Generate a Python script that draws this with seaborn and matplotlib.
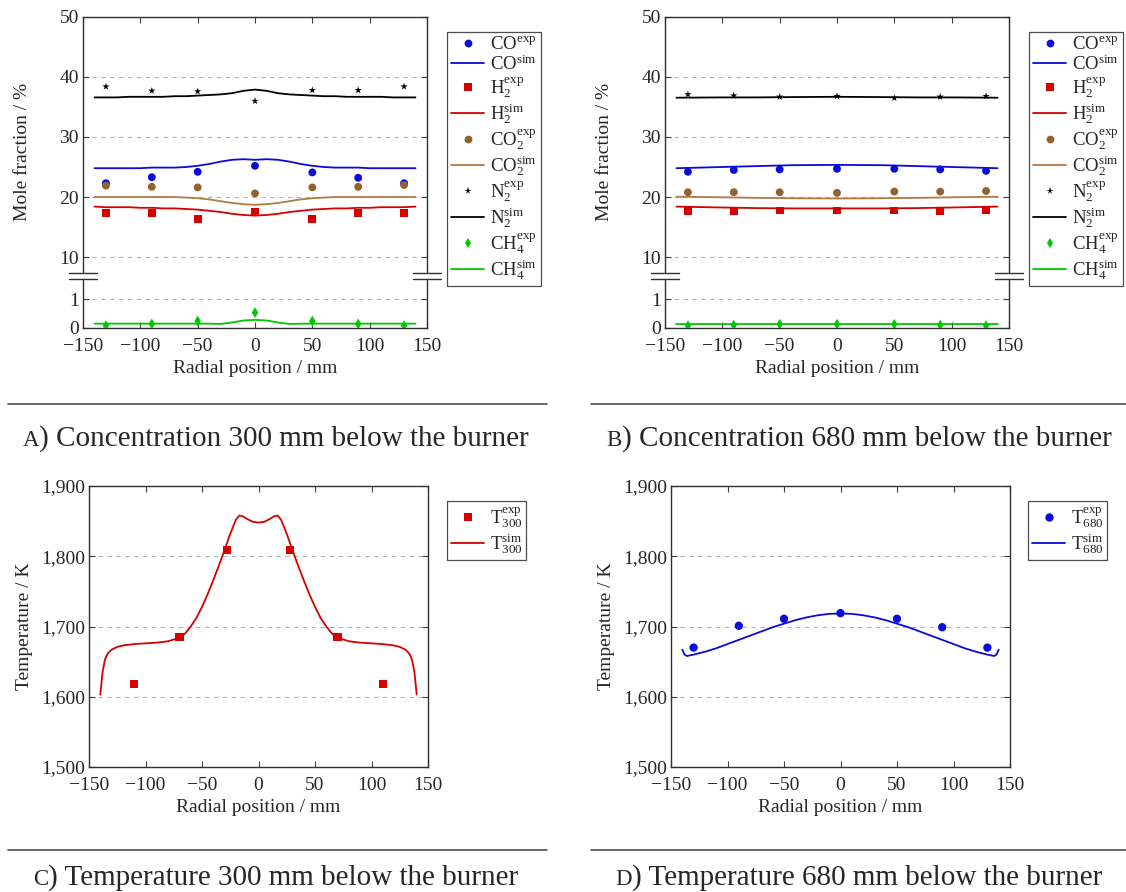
import numpy as np
import pandas as pd
import matplotlib
matplotlib.use("Agg")
import matplotlib.pyplot as plt
import seaborn as sns
from matplotlib.lines import Line2D
from matplotlib.patches import Rectangle
from matplotlib.ticker import FuncFormatter

# ------------------------------------------------------------------ data
x_exp = [-130, -90, -50, 0, 50, 90, 130]

# 300 mm below the burner (panel A)
co_exp_300 = [22.3, 23.3, 24.2, 25.2, 24.1, 23.2, 22.3]
h2_exp_300 = [17.3, 17.3, 16.4, 17.5, 16.3, 17.3, 17.3]
co2_exp_300 = [21.9, 21.7, 21.6, 20.6, 21.6, 21.7, 22.0]
n2_exp_300 = [38.4, 37.7, 37.6, 36.0, 37.8, 37.8, 38.4]
ch4_exp_300 = [0.08, 0.14, 0.24, 0.53, 0.24, 0.14, 0.08]

x_sim_300 = [-140, -130, -120, -110, -100, -90, -80, -70, -60, -50, -40, -30, -20, -10, 0,
             10, 20, 30, 40, 50, 60, 70, 80, 90, 100, 110, 120, 130, 140]
co_sim_300 = [24.8, 24.8, 24.8, 24.8, 24.8, 24.9, 24.9, 24.9, 25.0, 25.2, 25.5, 25.9, 26.2, 26.3, 26.2,
              26.3, 26.2, 25.9, 25.5, 25.2, 25.0, 24.9, 24.9, 24.9, 24.8, 24.8, 24.8, 24.8, 24.8]
co2_sim_300 = [20.0, 20.0, 20.0, 20.0, 20.0, 20.0, 20.0, 20.0, 19.9, 19.8, 19.6, 19.3, 19.0, 18.8, 18.7,
               18.8, 19.0, 19.3, 19.6, 19.8, 19.9, 20.0, 20.0, 20.0, 20.0, 20.0, 20.0, 20.0, 20.0]
h2_sim_300 = [18.4, 18.3, 18.3, 18.3, 18.2, 18.2, 18.1, 18.1, 18.0, 17.9, 17.7, 17.5, 17.2, 17.0, 16.9,
              17.0, 17.2, 17.5, 17.7, 17.9, 18.0, 18.1, 18.1, 18.2, 18.2, 18.3, 18.3, 18.3, 18.4]
n2_sim_300 = [36.6, 36.6, 36.6, 36.7, 36.7, 36.7, 36.7, 36.8, 36.8, 36.9, 37.0, 37.1, 37.3, 37.7, 37.9,
              37.7, 37.3, 37.1, 37.0, 36.9, 36.8, 36.8, 36.7, 36.7, 36.7, 36.7, 36.6, 36.6, 36.6]
ch4_sim_300 = [0.15, 0.15, 0.15, 0.15, 0.15, 0.15, 0.15, 0.15, 0.15, 0.15, 0.15, 0.14, 0.19, 0.26, 0.28,
               0.26, 0.19, 0.14, 0.15, 0.15, 0.15, 0.15, 0.15, 0.15, 0.15, 0.15, 0.15, 0.15, 0.15]

# 680 mm below the burner (panel B)
co_exp_680 = [24.2, 24.5, 24.6, 24.7, 24.7, 24.6, 24.35]
h2_exp_680 = [17.7, 17.6, 17.75, 17.75, 17.75, 17.7, 17.75]
co2_exp_680 = [20.8, 20.8, 20.8, 20.7, 20.9, 20.9, 21.0]
n2_exp_680 = [37.1, 36.9, 36.7, 36.8, 36.5, 36.7, 36.8]
ch4_exp_680 = [0.08, 0.10, 0.13, 0.13, 0.13, 0.10, 0.08]

x_sim_680 = [-140, -100, -70, -40, 0, 40, 70, 100, 140]
co_sim_680 = [24.8, 25.0, 25.15, 25.3, 25.35, 25.3, 25.15, 25.0, 24.8]
co2_sim_680 = [20.05, 19.95, 19.85, 19.8, 19.75, 19.8, 19.85, 19.95, 20.05]
h2_sim_680 = [18.4, 18.25, 18.15, 18.1, 18.1, 18.1, 18.15, 18.25, 18.4]
n2_sim_680 = [36.55, 36.6, 36.6, 36.65, 36.7, 36.65, 36.6, 36.6, 36.55]
ch4_sim_680 = [0.14, 0.14, 0.14, 0.14, 0.14, 0.14, 0.14, 0.14, 0.14]

# Temperature 300 mm (panel C)
x_t300_exp = [-110, -70, -28, 28, 70, 110]
t300_exp = [1618, 1685, 1809, 1809, 1685, 1618]
x_t300_sim = [-140, -138, -136, -134, -132, -130, -125, -120, -110, -100, -90, -80, -70, -65, -60,
              -55, -50, -45, -40, -35, -30, -25, -20, -17, -14, -10, -5, 0,
              5, 10, 14, 17, 20, 25, 30, 35, 40, 45, 50, 55, 60, 65, 70, 80, 90, 100, 110,
              120, 125, 130, 132, 134, 136, 138, 140]
t300_sim = [1603, 1635, 1652, 1660, 1664, 1667, 1671, 1673, 1675, 1676, 1677, 1679, 1684, 1690, 1700,
            1712, 1728, 1746, 1766, 1787, 1809, 1832, 1852, 1858, 1857, 1853, 1849, 1848,
            1849, 1853, 1857, 1858, 1852, 1832, 1809, 1787, 1766, 1746, 1728, 1712, 1700, 1690, 1684,
            1679, 1677, 1676, 1675, 1673, 1671, 1667, 1664, 1660, 1652, 1635, 1603]

# Temperature 680 mm (panel D)
x_t680_exp = [-130, -90, -50, 0, 50, 90, 130]
t680_exp = [1670, 1701, 1711, 1719, 1711, 1699, 1670]
x_t680_sim = [-140, -138, -136, -130, -120, -110, -100, -90, -80, -70, -60, -50, -40, -30, -20, -10, 0,
              10, 20, 30, 40, 50, 60, 70, 80, 90, 100, 110, 120, 130, 136, 138, 140]
t680_sim = [1667, 1660, 1658, 1660, 1664, 1669, 1675, 1681, 1687, 1693, 1699, 1704, 1709, 1713, 1716, 1718, 1718.5,
            1718, 1716, 1713, 1709, 1704, 1699, 1693, 1687, 1681, 1675, 1669, 1664, 1660, 1658, 1660, 1667]

# ------------------------------------------------------------------ style
sns.set_style("ticks")
plt.rcParams["font.family"] = ["Liberation Serif", "DejaVu Serif"]
plt.rcParams["mathtext.fontset"] = "custom"
plt.rcParams["mathtext.rm"] = "Liberation Serif"
plt.rcParams["mathtext.it"] = "Liberation Serif:italic"
plt.rcParams["mathtext.bf"] = "Liberation Serif:bold"
plt.rcParams["axes.unicode_minus"] = True

BLUE = "#0a0ade"
RED = "#d60000"
BROWN_M = "#94622f"
BROWN_L = "#b37a42"
GREEN = "#00c800"
BLACK = "#000000"
FS = 14
FS_LEG = 13.5

W, H = 1126, 892
fig = plt.figure(figsize=(W / 100, H / 100), dpi=100)


def rect(l, t, w, h):
    return [l / W, 1 - (t + h) / H, w / W, h / H]


# broken y axis: lower part 0..1.65, upper part 7..50
YK = [-100.0, 0.0, 1.65, 7.0, 10.0, 100.0]
PK = [-2900.0, 0.0, 47.85, 53.0, 71.0, 611.0]


def fwd(y):
    return np.interp(y, YK, PK)


def inv(p):
    return np.interp(p, PK, YK)


def style_axes(ax):
    for s in ax.spines.values():
        s.set_color("#303030")
        s.set_linewidth(1.0)
    ax.tick_params(direction="in", top=True, right=True, length=4, width=0.8,
                   color="#404040", labelsize=FS)
    ax.tick_params(axis="x", pad=7)
    ax.tick_params(axis="y", pad=3)
    ax.yaxis.grid(True, ls=(0, (4, 4)), color="#b4b4b4", lw=0.8)
    ax.xaxis.grid(False)
    ax.set_xlim(-150, 150)
    ax.set_xticks([-150, -100, -50, 0, 50, 100, 150])
    ax.set_xlabel("Radial position / mm", fontsize=FS, labelpad=4)


def add_break(ax):
    yb = 52 / 311
    d = 3 / 311
    for xs in (0.0, 1.0):
        ax.add_patch(Rectangle((xs - 0.01, yb - d), 0.02, 2 * d, transform=ax.transAxes,
                               facecolor="white", edgecolor="none", clip_on=False, zorder=10))
        for yy in (yb - d, yb + d):
            ax.add_line(Line2D([xs - 0.041, xs + 0.041], [yy, yy], transform=ax.transAxes,
                               color="#303030", lw=1.0, clip_on=False, zorder=11))


def scat(ax, x, y, color, marker, s, ec="none"):
    sns.scatterplot(x=x, y=y, ax=ax, color=color, marker=marker, s=s,
                    edgecolor=ec, linewidth=0.4 if ec != "none" else 0, zorder=4, legend=False)


def line(ax, x, y, color):
    sns.lineplot(x=x, y=y, ax=ax, color=color, lw=1.3, estimator=None, sort=False,
                 legend=False, zorder=3)


def legend(ax, handles, labels, x, y):
    leg = ax.legend(handles, labels, loc="upper left", bbox_to_anchor=(x / W, 1 - y / H),
                    bbox_transform=fig.transFigure, borderaxespad=0, frameon=True,
                    fancybox=False, shadow=False, fontsize=FS_LEG, handlelength=1.75,
                    handletextpad=0.3, borderpad=0.22, labelspacing=0.075)
    leg.get_frame().set_edgecolor("#202020")
    leg.get_frame().set_linewidth(0.9)
    return leg


def conc_panel(ax, co_e, h2_e, co2_e, n2_e, ch4_e, xs, co_s, h2_s, co2_s, n2_s, ch4_s, legx):
    ax.set_yscale("function", functions=(fwd, inv))
    ax.set_ylim(0, 50)
    ax.set_yticks([0, 1, 10, 20, 30, 40, 50])
    ax.yaxis.set_major_formatter(FuncFormatter(lambda v, p: f"{v:g}"))
    style_axes(ax)
    ax.set_ylabel("Mole fraction / %", fontsize=FS)
    ax.yaxis.set_label_coords(-0.15, 0.566)
    scat(ax, x_exp, co_e, BLUE, "o", 32)
    line(ax, xs, co_s, BLUE)
    scat(ax, x_exp, h2_e, RED, "s", 32)
    line(ax, xs, h2_s, RED)
    scat(ax, x_exp, co2_e, BROWN_M, "o", 32)
    line(ax, xs, co2_s, BROWN_L)
    scat(ax, x_exp, n2_e, BLACK, "*", 30)
    line(ax, xs, n2_s, BLACK)
    scat(ax, x_exp, ch4_e, GREEN, "d", 30)
    line(ax, xs, ch4_s, GREEN)
    add_break(ax)
    ms = 5.6
    handles = [
        Line2D([], [], ls="none", marker="o", color=BLUE, ms=ms, mew=0),
        Line2D([], [], color=BLUE, lw=1.3),
        Line2D([], [], ls="none", marker="s", color=RED, ms=ms, mew=0),
        Line2D([], [], color=RED, lw=1.3),
        Line2D([], [], ls="none", marker="o", color=BROWN_M, ms=ms, mew=0),
        Line2D([], [], color=BROWN_L, lw=1.3),
        Line2D([], [], ls="none", marker="*", color=BLACK, ms=5.5, mew=0),
        Line2D([], [], color=BLACK, lw=1.3),
        Line2D([], [], ls="none", marker="d", color=GREEN, ms=ms, mew=0),
        Line2D([], [], color=GREEN, lw=1.3),
    ]
    labels = [r"CO$^{\mathrm{exp}}$", r"CO$^{\mathrm{sim}}$",
              r"H$_{2}^{\mathrm{exp}}$", r"H$_{2}^{\mathrm{sim}}$",
              r"CO$_{2}^{\mathrm{exp}}$", r"CO$_{2}^{\mathrm{sim}}$",
              r"N$_{2}^{\mathrm{exp}}$", r"N$_{2}^{\mathrm{sim}}$",
              r"CH$_{4}^{\mathrm{exp}}$", r"CH$_{4}^{\mathrm{sim}}$"]
    legend(ax, handles, labels, legx, 32)


def temp_panel(ax, xe, te, xs, ts, color, marker, sub, legx):
    ax.set_ylim(1500, 1900)
    ax.set_yticks([1500, 1600, 1700, 1800, 1900])
    ax.yaxis.set_major_formatter(FuncFormatter(lambda v, p: f"{int(round(v)):,}"))
    style_axes(ax)
    ax.set_ylabel("Temperature / K", fontsize=FS)
    ax.yaxis.set_label_coords(-0.165, 0.5)
    scat(ax, xe, te, color, marker, 36)
    line(ax, xs, ts, color)
    handles = [Line2D([], [], ls="none", marker=marker, color=color, ms=6.0, mew=0),
               Line2D([], [], color=color, lw=1.3)]
    labels = [r"T$_{\mathrm{%s}}^{\mathrm{exp}}$" % sub, r"T$_{\mathrm{%s}}^{\mathrm{sim}}$" % sub]
    legend(ax, handles, labels, legx, 501)


axA = fig.add_axes(rect(83, 17, 344, 311))
conc_panel(axA, co_exp_300, h2_exp_300, co2_exp_300, n2_exp_300, ch4_exp_300,
           x_sim_300, co_sim_300, h2_sim_300, co2_sim_300, n2_sim_300, ch4_sim_300, 447)

axB = fig.add_axes(rect(665, 17, 344, 311))
conc_panel(axB, co_exp_680, h2_exp_680, co2_exp_680, n2_exp_680, ch4_exp_680,
           x_sim_680, co_sim_680, h2_sim_680, co2_sim_680, n2_sim_680, ch4_sim_680, 1029)

axC = fig.add_axes(rect(89, 486, 339, 281))
temp_panel(axC, x_t300_exp, t300_exp, x_t300_sim, t300_sim, RED, "s", "300", 447)

axD = fig.add_axes(rect(671, 486, 339, 281))
temp_panel(axD, x_t680_exp, t680_exp, x_t680_sim, t680_sim, BLUE, "o", "680", 1028)

# ------------------------------------------------------------------ captions
for (x0, x1, y) in [(8, 547, 404), (591, 1126, 404), (8, 547, 850), (591, 1126, 850)]:
    fig.add_artist(Line2D([x0 / W, x1 / W], [1 - y / H, 1 - y / H], transform=fig.transFigure,
                          color="#505050", lw=1.2))

renderer = fig.canvas.get_renderer()


def caption(xc, ybase, letter, rest):
    t1 = fig.text(0, 0, letter, fontsize=16.5, va="baseline", ha="left")
    t2 = fig.text(0, 0, rest, fontsize=21, va="baseline", ha="left")
    w1 = t1.get_window_extent(renderer).width
    w2 = t2.get_window_extent(renderer).width
    x0 = xc - (w1 + w2) / 2
    t1.set_position((x0 / W, 1 - ybase / H))
    t2.set_position(((x0 + w1) / W, 1 - ybase / H))


caption(276, 446, "A", ") Concentration 300 mm below the burner")
caption(859, 446, "B", ") Concentration 680 mm below the burner")
caption(276, 885, "C", ") Temperature 300 mm below the burner")
caption(859, 885, "D", ") Temperature 680 mm below the burner")

fig.savefig("out.png", dpi=100)
